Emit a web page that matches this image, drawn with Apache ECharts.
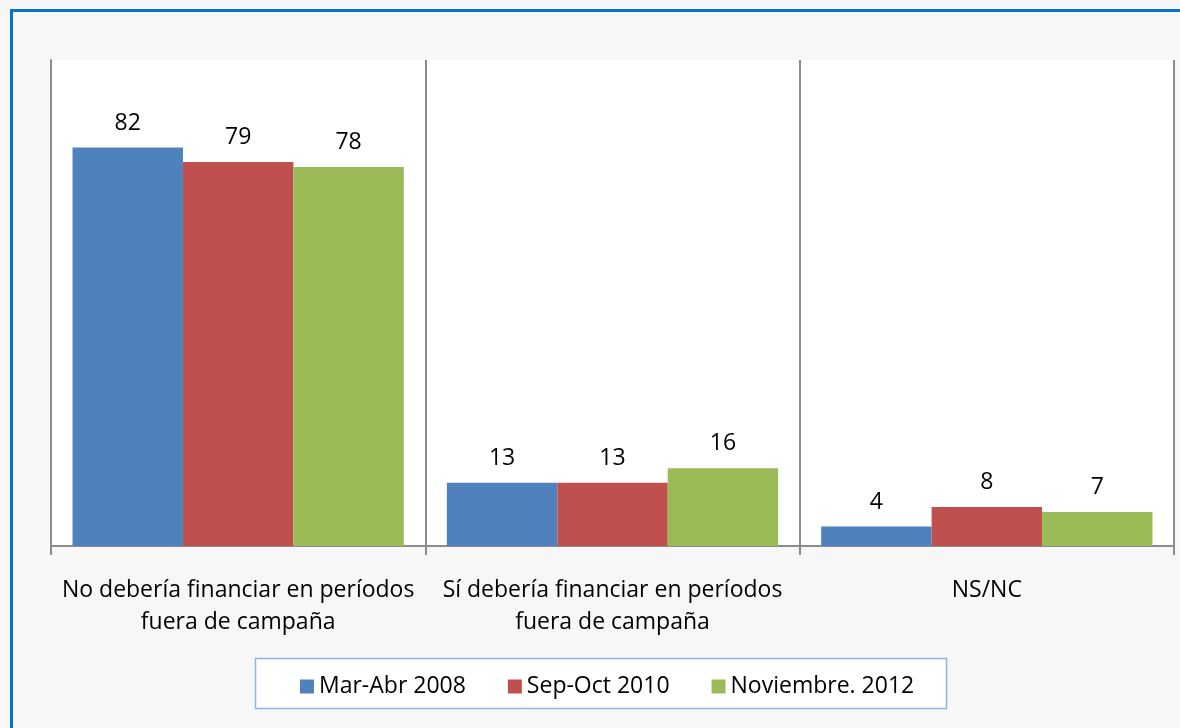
<!DOCTYPE html>
<html>
<head>
<meta charset="utf-8">
<script src="https://cdn.jsdelivr.net/npm/echarts@6/dist/echarts.min.js"></script>
<style>
  body { margin: 0; background: #f7f7f7; }
  #frame { position: absolute; left: 10px; top: 9px; width: 1170px; height: 719px;
           border-left: 3px solid #0873c9; border-top: 3px solid #0873c9; }
  #chart { position: absolute; left: 0; top: 0; width: 1180px; height: 728px; }
</style>
</head>
<body>
<div id="frame"></div>
<div id="chart"></div>
<script>
// categorias y series
var categories = ['No debería financiar en períodos\nfuera de campaña', 'Sí debería financiar en períodos\nfuera de campaña', 'NS/NC'];
var seriesNames = ['Mar-Abr 2008', 'Sep-Oct 2010', 'Noviembre. 2012'];
var valores2008 = [82, 13, 4];
var valores2010 = [79, 13, 8];
var valores2012 = [78, 16, 7];
var colores = ['#4f81bd', '#c0504d', '#9bbb59'];

var FONT = 'Open Sans';
var FSIZE = 23;
var chart = echarts.init(document.getElementById('chart'));

function serie(idx, datos) {
    return {
        name: seriesNames[idx],
        type: 'bar',
        data: datos,
        barGap: '0%',
        barCategoryGap: '11.5%',
        itemStyle: { color: colores[idx] },
        label: {
            show: true,
            position: 'top',
            distance: 13,
            color: '#000',
            fontFamily: FONT,
            fontSize: FSIZE
        }
    };
}

var options = {
    backgroundColor: 'transparent',
    animation: false,
    graphic: [
        {
            type: 'rect',
            shape: { x: 255.5, y: 658.5, width: 691, height: 50 },
            style: { fill: '#fff', stroke: '#8db4e2', lineWidth: 1.5 },
            z: 0
        }
    ],
    legend: {
        data: seriesNames,
        left: 295,
        top: 670,
        itemWidth: 14,
        itemHeight: 14,
        itemGap: 42,
        icon: 'rect',
        textStyle: { color: '#000', fontFamily: FONT, fontSize: FSIZE },
        z: 5
    },
    grid: {
        left: 51,
        right: 6,
        top: 60,
        bottom: 182,
        show: true,
        backgroundColor: '#fff',
        borderWidth: 0
    },
    xAxis: {
        type: 'category',
        data: categories,
        axisLine: { lineStyle: { color: '#8c8c8c', width: 2 } },
        axisTick: { show: true, length: 9, lineStyle: { color: '#8c8c8c', width: 2 } },
        splitLine: { show: true, lineStyle: { color: '#8c8c8c', width: 2 } },
        axisLabel: {
            color: '#000',
            fontFamily: FONT,
            fontSize: FSIZE,
            lineHeight: 32,
            margin: 28,
            interval: 0
        }
    },
    yAxis: {
        type: 'value',
        min: 0,
        max: 100,
        axisLine: { show: true, lineStyle: { color: '#8c8c8c', width: 2 } },
        axisTick: { show: false },
        axisLabel: { show: false },
        splitLine: { show: false }
    },
    series: [
        serie(0, valores2008),
        serie(1, valores2010),
        serie(2, valores2012)
    ]
};

chart.setOption(options);
</script>
</body>
</html>
